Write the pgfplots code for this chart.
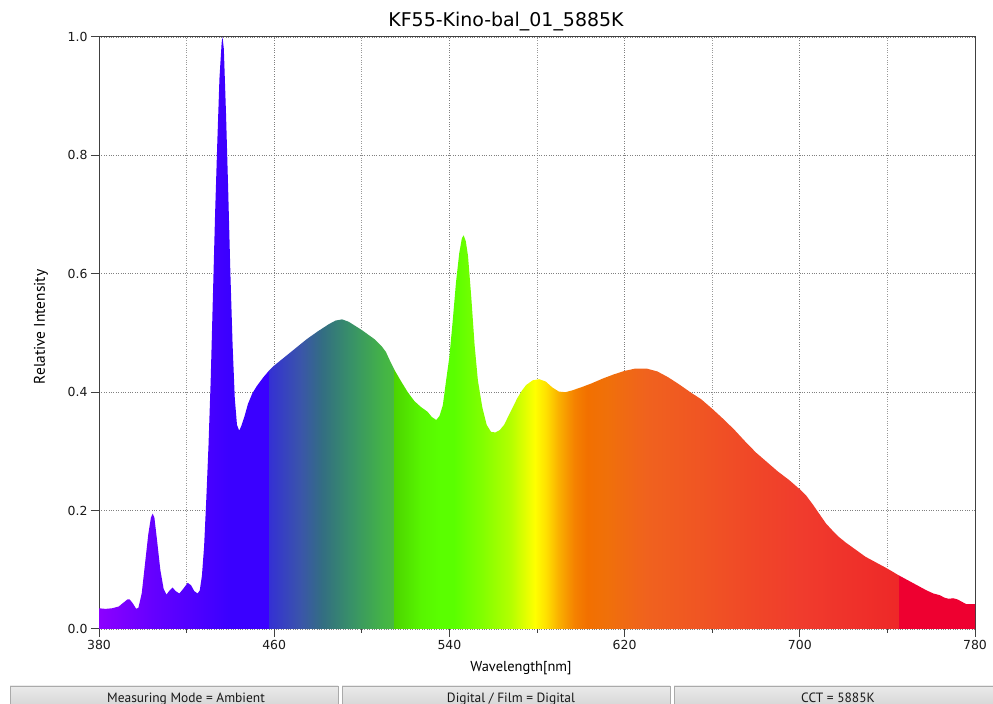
\documentclass[border=0pt]{standalone}
\usepackage{fontspec}
\setmainfont{DejaVu Sans}
\newfontfamily\lblfont{PT Sans}
\usepackage{pgfplots}
\pgfplotsset{compat=1.18}
\usepackage{pgfplotstable}

\definecolor{c380}{RGB}{140,0,255}
\definecolor{c405}{RGB}{100,0,255}
\definecolor{c440}{RGB}{58,0,255}
\definecolor{c457}{RGB}{52,48,212}
\definecolor{c472}{RGB}{58,85,170}
\definecolor{c482}{RGB}{51,110,130}
\definecolor{c495}{RGB}{56,145,104}
\definecolor{c510}{RGB}{68,180,70}
\definecolor{c514}{RGB}{72,186,64}
\definecolor{c515}{RGB}{76,212,0}
\definecolor{c527}{RGB}{88,245,0}
\definecolor{c536}{RGB}{90,255,0}
\definecolor{c555}{RGB}{130,255,0}
\definecolor{c568}{RGB}{180,255,0}
\definecolor{c579}{RGB}{255,255,0}
\definecolor{c584}{RGB}{255,225,0}
\definecolor{c590}{RGB}{250,175,0}
\definecolor{c597}{RGB}{245,130,0}
\definecolor{c603}{RGB}{242,112,0}
\definecolor{c612}{RGB}{240,112,10}
\definecolor{c630}{RGB}{240,98,30}
\definecolor{c655}{RGB}{240,85,35}
\definecolor{c680}{RGB}{240,70,40}
\definecolor{c700}{RGB}{240,60,45}
\definecolor{c745}{RGB}{238,40,40}
\definecolor{c746}{RGB}{238,0,48}
\definecolor{btnline}{RGB}{170,170,170}

% position = 25bp + (lambda-380)/8 bp
\pgfdeclarehorizontalshading{spectrum}{100bp}{%
color(0bp)=(c380); color(25bp)=(c380); color(28.125bp)=(c405);
color(32.5bp)=(c440); color(34.6875bp)=(c440); color(34.7bp)=(c457);
color(36.5bp)=(c472); color(37.75bp)=(c482); color(39.375bp)=(c495);
color(41.25bp)=(c510); color(41.8125bp)=(c514); color(41.825bp)=(c515);
color(43.375bp)=(c527); color(44.5bp)=(c536); color(45.25bp)=(c536);
color(46.875bp)=(c555); color(48.5bp)=(c568); color(49.875bp)=(c579);
color(50.5bp)=(c584); color(51.25bp)=(c590); color(52.125bp)=(c597);
color(52.875bp)=(c603); color(54bp)=(c612); color(56.25bp)=(c630);
color(59.375bp)=(c655); color(62.5bp)=(c680); color(65bp)=(c700);
color(70.625bp)=(c745); color(70.6375bp)=(c746); color(75bp)=(c746);
color(100bp)=(c746)}

\pgfplotstableread{
x y
380 0.035
383 0.034
386 0.035
389 0.038
391 0.044
393 0.05
394 0.05
395.5 0.043
397 0.034
398 0.036
399.5 0.06
401 0.11
402.5 0.16
403.7 0.188
404.5 0.195
405.3 0.188
406.5 0.15
408 0.1
409.5 0.068
410.8 0.058
412 0.064
413.6 0.07
415 0.064
416.7 0.06
418.5 0.068
420.5 0.078
422 0.074
423.5 0.064
425 0.06
426 0.065
427 0.09
428 0.14
429 0.22
430 0.31
431 0.42
432 0.56
433 0.7
434 0.82
435 0.93
436 0.99
436.4 1.0
437 0.98
438 0.87
439 0.74
440 0.6
441 0.48
442 0.39
443 0.345
444 0.335
445 0.343
446.5 0.36
448 0.38
450 0.398
452 0.41
455 0.425
458 0.438
460 0.445
465 0.46
470 0.475
475 0.49
480 0.503
485 0.515
488 0.521
491 0.523
494 0.519
497 0.512
500 0.505
503 0.497
506 0.489
509 0.478
511 0.468
513 0.452
515 0.437
518 0.418
521 0.4
524 0.385
527 0.375
530 0.367
532 0.358
534 0.353
535.5 0.36
537 0.378
538.5 0.42
540 0.46
541.5 0.52
543 0.585
544.5 0.635
545.7 0.66
546.5 0.665
547.5 0.655
548.5 0.63
550 0.56
551.5 0.48
553 0.42
555 0.375
557 0.345
559 0.333
561 0.332
563 0.336
565 0.345
567 0.36
569 0.375
571 0.39
573 0.402
575 0.412
578 0.42
581 0.422
584 0.418
587 0.408
590 0.401
593 0.4
596 0.403
600 0.408
605 0.415
610 0.423
615 0.43
620 0.436
625 0.44
630 0.44
635 0.435
640 0.425
645 0.413
650 0.4
655 0.388
660 0.372
665 0.355
670 0.337
675 0.317
680 0.298
685 0.282
690 0.266
695 0.252
700 0.236
703 0.225
706 0.21
709 0.194
712 0.178
715 0.166
718 0.155
721 0.146
724 0.138
727 0.13
730 0.122
735 0.112
740 0.102
745 0.091
750 0.081
755 0.071
758 0.065
761 0.06
764 0.057
766 0.053
768 0.051
770 0.052
772 0.05
774 0.046
776 0.042
780 0.042
}\spectrumdata

\begin{document}
\begin{tikzpicture}
\useasboundingbox (0bp,0bp) rectangle (993bp,704bp);
\begin{axis}[
  at={(99bp,75bp)}, anchor=south west,
  scale only axis, width=876bp, height=592bp,
  xmin=380, xmax=780, ymin=0, ymax=1,
  xtick={380,460,540,620,700,780},
  minor xtick={420,500,580,660,740},
  ytick={0,0.2,0.4,0.6,0.8,1.0},
  yticklabel style={/pgf/number format/.cd, fixed, fixed zerofill, precision=1},
  /pgf/number format/assume math mode=true,
  ticklabel style={font=\fontsize{12.5}{14}\selectfont, text=black!90},
  grid=both,
  major grid style={dotted, black!50, line width=0.8bp},
  minor grid style={dotted, black!40, line width=0.8bp},
  tick align=outside, tick pos=left,
  major tick length=8bp, minor tick length=4bp,
  tick style={black!75, line width=1bp},
  axis line style={black!75, line width=1bp},
  title={KF55-Kino-bal\_01\_5885K},
  title style={at={([xshift=-31bp,yshift=9bp]axis description cs:0.5,1)}, anchor=center,
    yshift=0pt, font=\fontsize{19}{21}\selectfont},
  xlabel={Wavelength[nm]},
  xlabel style={at={([xshift=-16bp,yshift=-39bp]axis description cs:0.5,0)}, anchor=center,
    font=\lblfont\fontsize{14.5}{16}\selectfont},
  ylabel={Relative Intensity},
  ylabel style={at={([xshift=-58bp,yshift=6bp]axis description cs:0,0.5)}, anchor=center,
    font=\lblfont\fontsize{15.5}{17}\selectfont},
]
\addplot[draw=none, shading=spectrum] table[x=x, y=y] {\spectrumdata} \closedcycle;
\end{axis}
\begin{scope}
\clip (0bp,0bp) rectangle (993bp,704bp);
\foreach \xa/\xb/\xc/\txt in {10/338/186/{Measuring Mode = Ambient}, 342/670/511/{Digital / Film = Digital}, 674/998/838/{CCT = 5885K}}{
  \draw[btnline, top color=white!92!black, bottom color=white!82!black, line width=0.8bp]
    (\xa bp,-6bp) rectangle (\xb bp,18bp);
  \node[font=\lblfont\fontsize{13.5}{15}\selectfont, text=black!90, anchor=base]
    at (\xc bp,2bp) {\txt};
}
\end{scope}
\end{tikzpicture}
\end{document}
